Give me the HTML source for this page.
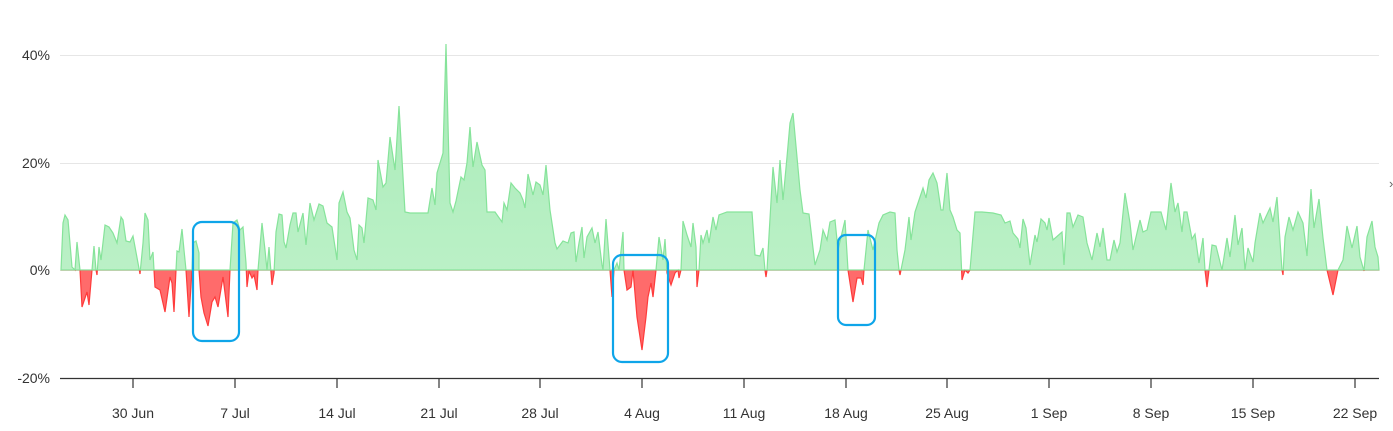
<!DOCTYPE html>
<html><head><meta charset="utf-8"><style>
html,body{margin:0;padding:0;background:#fff;}
svg{display:block;font-family:"Liberation Sans",sans-serif;}
</style></head><body>
<svg width="1393" height="431" viewBox="0 0 1393 431" xmlns="http://www.w3.org/2000/svg">
<defs>
<clipPath id="top"><rect x="0" y="0" width="1393" height="270.5"/></clipPath>
<clipPath id="bot"><rect x="0" y="270.5" width="1393" height="200"/></clipPath>
<linearGradient id="gg" x1="0" y1="0" x2="0" y2="1"><stop offset="0" stop-color="#a6eab6"/><stop offset="1" stop-color="#c2f3cc"/></linearGradient>
</defs>
<line x1="60" y1="55.5" x2="1379" y2="55.5" stroke="#e6e6e6"/>
<line x1="60" y1="163.5" x2="1379" y2="163.5" stroke="#e6e6e6"/>
<line x1="60" y1="270.5" x2="1379" y2="270.5" stroke="#eeeeee"/>
<g id="series">
<path id="p" d="M61,270 L63,223 65,215 68,220 72,267 75,270 77,242 80,270 82,307 87,292 89,305 92,270 94,246 96,270 97,275 99,247 101,260 105,225 109,227 113,233 117,243 121,217 123,220 126,241 130,242 133,236 138,263 140,274 143,243 145,213 148,220 150,260 153,252 154,270 155,287 160,290 165,312 170,277 172,283 174,312 176,270 177,251 179,252 182,229 184,250 186,270 189,317 192,270 193,243 196,241 199,253 199,270 201,297 204,313 208,326 212,302 215,297 218,307 223,277 228,317 230,270 233,223 237,220 240,230 243,227 246,263 247,287 249,271 252,278 254,275 257,290 258,270 262,223 265,250 267,270 269,247 272,285 274,273 276,232 279,214 282,215 284,242 286,248 290,225 293,213 296,213 298,232 303,213 306,245 310,203 314,220 319,204 323,206 327,223 332,227 337,260 339,203 343,192 347,212 350,218 354,250 357,260 359,225 362,228 364,243 368,198 373,200 376,210 378,160 383,187 386,183 390,137 395,170 399,106 405,212 410,213 428,213 432,188 435,205 437,173 443,153 446,44 450,203 453,212 456,201 461,177 464,180 467,163 470,127 473,167 477,142 482,165 485,170 487,212 495,212 502,222 504,203 507,210 511,183 515,188 520,193 523,200 525,208 528,174 533,195 536,182 540,185 543,195 546,165 550,210 555,243 557,249 563,241 568,243 571,233 574,232 576,262 579,243 582,227 584,258 587,237 592,228 595,243 598,232 602,265 603,270 606,219 610,270 612,297 614,270 617,263 619,270 623,232 624,270 627,290 631,287 633,270 637,317 642,350 646,317 648,297 651,283 653,297 656,270 659,237 663,260 665,239 667,273 671,285 675,273 678,270 679,278 681,270 683,221 687,235 691,247 693,223 696,247 697,287 699,270 701,235 703,243 707,230 709,243 713,217 716,230 719,215 727,212 740,212 752,212 755,255 760,256 763,248 765,270 766,277 767,270 773,167 777,203 780,160 783,200 787,157 790,123 793,113 797,157 800,190 803,213 809,214 815,265 820,250 823,230 827,240 830,222 835,220 838,250 845,220 848,270 853,302 857,278 861,278 863,285 864,270 868,230 873,250 879,223 883,215 890,212 895,213 897,250 899,270 900,275 905,250 909,217 911,240 915,212 920,197 923,188 926,198 929,180 933,173 937,183 941,210 943,210 947,173 950,210 953,217 957,230 960,233 962,280 965,270 968,273 970,270 975,212 982,212 993,213 1001,215 1005,223 1010,221 1013,233 1018,239 1020,248 1023,219 1026,228 1030,265 1035,235 1037,242 1041,219 1045,223 1047,230 1049,218 1053,240 1062,232 1064,265 1067,213 1070,213 1073,227 1078,215 1083,217 1087,243 1092,260 1097,233 1100,247 1103,228 1107,260 1110,260 1114,240 1117,252 1120,243 1125,193 1130,223 1133,250 1140,220 1143,232 1147,230 1151,212 1161,212 1166,230 1171,183 1175,212 1178,203 1182,232 1184,212 1187,212 1192,239 1195,234 1199,263 1203,238 1205,270 1207,287 1209,270 1212,245 1216,246 1222,270 1227,238 1230,257 1235,215 1238,245 1242,228 1245,270 1248,248 1253,262 1255,243 1260,213 1263,223 1270,208 1273,222 1277,197 1282,270 1283,275 1285,237 1289,217 1293,230 1298,212 1303,223 1307,256 1311,189 1314,228 1319,199 1323,238 1327,270 1333,295 1337,275 1338,270 1343,260 1347,226 1352,248 1357,226 1360,257 1364,271 1367,237 1372,221 1375,247 1378,257 L1379,270 Z"/>
</g>
<g clip-path="url(#top)"><use href="#p" fill="url(#gg)" stroke="#86e39a" stroke-width="1.2"/></g>
<g clip-path="url(#bot)"><use href="#p" fill="#ff6b6b" stroke="#ff3b3b" stroke-width="1.2"/></g>
<line x1="60" y1="378.5" x2="1379" y2="378.5" stroke="#333" stroke-width="1.2"/>
<g stroke="#333" stroke-width="1.2">
<line x1="133" y1="378" x2="133" y2="388"/><line x1="235" y1="378" x2="235" y2="388"/><line x1="337" y1="378" x2="337" y2="388"/><line x1="439" y1="378" x2="439" y2="388"/><line x1="540" y1="378" x2="540" y2="388"/><line x1="642" y1="378" x2="642" y2="388"/><line x1="744" y1="378" x2="744" y2="388"/><line x1="846" y1="378" x2="846" y2="388"/><line x1="947" y1="378" x2="947" y2="388"/><line x1="1049" y1="378" x2="1049" y2="388"/><line x1="1151" y1="378" x2="1151" y2="388"/><line x1="1253" y1="378" x2="1253" y2="388"/><line x1="1355" y1="378" x2="1355" y2="388"/>
</g>
<g font-size="14" fill="#333" text-anchor="end">
<text x="50" y="60">40%</text><text x="50" y="168">20%</text><text x="50" y="275">0%</text><text x="50" y="383">-20%</text>
</g>
<g font-size="14" fill="#333" text-anchor="middle">
<text x="133" y="418">30 Jun</text><text x="235" y="418">7 Jul</text><text x="337" y="418">14 Jul</text><text x="439" y="418">21 Jul</text><text x="540" y="418">28 Jul</text><text x="642" y="418">4 Aug</text><text x="744" y="418">11 Aug</text><text x="846" y="418">18 Aug</text><text x="947" y="418">25 Aug</text><text x="1049" y="418">1 Sep</text><text x="1151" y="418">8 Sep</text><text x="1253" y="418">15 Sep</text><text x="1355" y="418">22 Sep</text>
</g>
<text x="1389" y="188" font-size="13" fill="#666">›</text>
<g fill="none" stroke="#0ea5e9" stroke-width="2.2">
<rect x="193" y="222" width="46" height="119" rx="9"/>
<rect x="613" y="255" width="55" height="107" rx="9"/>
<rect x="838" y="235" width="37" height="90" rx="8"/>
</g>
</svg>
</body></html>
